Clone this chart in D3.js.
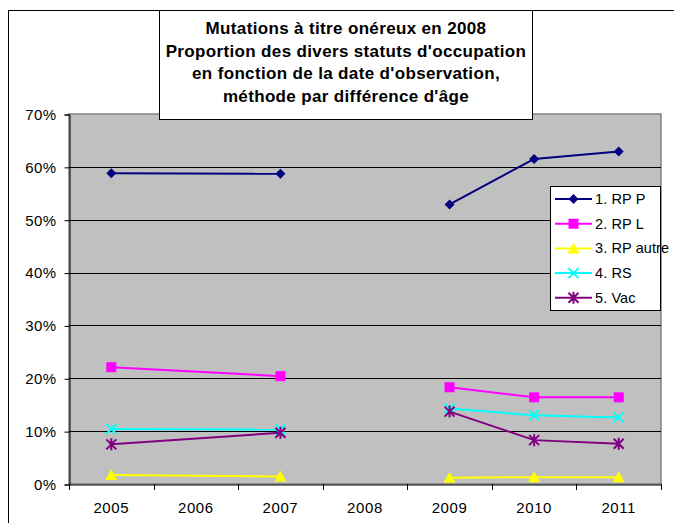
<!DOCTYPE html>
<html><head><meta charset="utf-8">
<script src="https://cdnjs.cloudflare.com/ajax/libs/d3/7.8.5/d3.min.js"></script>
<style>body{margin:0;background:#fff;}svg{display:block;font-family:"Liberation Sans",Arial,sans-serif;}</style>
</head><body>
<script>
const years = ["2005","2006","2007","2008","2009","2010","2011"];
const yTicks = [0,0.1,0.2,0.3,0.4,0.5,0.6,0.7];
const titleLines = ["Mutations à titre onéreux en 2008","Proportion des divers statuts d'occupation","en fonction de la date d'observation,","méthode par différence d'âge"];
const seriesNames = ["1. RP P","2. RP L","3. RP autre","4. RS","5. Vac"];
const seriesColors = ["#000080","#FF00FF","#FFFF00","#00FFFF","#800080"];
const seriesMarkers = ["diamond","square","triangle","x","star"];
// observed years grouped into the connected line segments of the chart
const segments = [["2005","2007"],["2009","2010","2011"]];
const rpP   = [0.588,null,0.587,null,0.529,0.615,0.629];
const rpL   = [0.221,null,0.204,null,0.183,0.164,0.164];
const rpA   = [0.017,null,0.014,null,0.012,0.013,0.013];
const rs    = [0.104,null,0.103,null,0.143,0.130,0.126];
const vac   = [0.075,null,0.097,null,0.137,0.083,0.076];
const seriesValues = [rpP,rpL,rpA,rs,vac];

const W=674,H=523;
const FONT="Liberation Sans, Arial, sans-serif";
const svg=d3.select("body").append("svg").attr("width",W).attr("height",H);
const L=69,R=661,T=114,B=484;
const x=d3.scaleBand().domain(years).range([L,R]).padding(0);
const y=d3.scaleLinear().domain([0,0.7]).range([B,T]);

// outer frame
svg.append("rect").attr("x",8.5).attr("y",10.5).attr("width",W+20).attr("height",H+20)
  .attr("fill","#fff").attr("stroke","#000").attr("stroke-width",1);

// plot area
svg.append("rect").attr("x",L).attr("y",T).attr("width",R-L).attr("height",B-T)
  .attr("fill","#C0C0C0").attr("stroke","#808080").attr("stroke-width",1.5);

// gridlines
svg.append("g").selectAll("line").data(yTicks.filter(d=>d>0&&d<0.7)).join("line")
  .attr("x1",L).attr("x2",R).attr("y1",d=>Math.round(y(d))+0.5).attr("y2",d=>Math.round(y(d))+0.5)
  .attr("stroke","#000").attr("stroke-width",1);

// y axis
const yAxis=d3.axisLeft(y).tickValues(yTicks).tickFormat(d3.format(".0%")).tickSize(5).tickPadding(8);
const gy=svg.append("g").attr("transform",`translate(${L+0.5},0.5)`).call(yAxis);
gy.select(".domain").attr("stroke","#000");
gy.selectAll(".tick line").attr("stroke","#000");
gy.selectAll("text").attr("font-size",15).attr("letter-spacing",0.4).attr("fill","#000").attr("font-family",FONT);

// x axis
const xAxis=d3.axisBottom(x).tickSize(0).tickPadding(18);
const gx=svg.append("g").attr("transform",`translate(0,${B+0.5})`).call(xAxis);
gx.select(".domain").attr("stroke","#000");
gx.selectAll("text").attr("font-size",15).attr("letter-spacing",0.6).attr("fill","#000").attr("font-family",FONT);
// boundary ticks
const bounds=years.map(d=>x(d)).concat([R]);
svg.append("g").selectAll("line").data(bounds).join("line")
  .attr("x1",d=>Math.round(d)+0.5).attr("x2",d=>Math.round(d)+0.5).attr("y1",B).attr("y2",B+6)
  .attr("stroke","#000");

function marker(g,type,color,cx,cy){
  if(type==="diamond"){
    g.append("path").attr("d",`M${cx},${cy-5}L${cx+5},${cy}L${cx},${cy+5}L${cx-5},${cy}Z`).attr("fill",color);
  } else if(type==="square"){
    g.append("rect").attr("x",cx-5).attr("y",cy-5).attr("width",10).attr("height",10).attr("fill",color);
  } else if(type==="triangle"){
    g.append("path").attr("d",`M${cx},${cy-6}L${cx+6},${cy+5}L${cx-6},${cy+5}Z`).attr("fill",color);
  } else if(type==="x"){
    g.append("path").attr("d",`M${cx-5},${cy-5}L${cx+5},${cy+5}M${cx+5},${cy-5}L${cx-5},${cy+5}`)
      .attr("stroke",color).attr("stroke-width",2);
  } else if(type==="star"){
    g.append("path").attr("d",`M${cx-5},${cy-5}L${cx+5},${cy+5}M${cx+5},${cy-5}L${cx-5},${cy+5}M${cx},${cy-6}L${cx},${cy+6}`)
      .attr("stroke",color).attr("stroke-width",2);
  }
}

// series
const line=d3.line().x(d=>x(d.k)+x.bandwidth()/2).y(d=>y(d.v));
seriesValues.forEach((vals,i)=>{
  const data=years.map((k,j)=>({k,v:vals[j]}));
  const g=svg.append("g");
  segments.forEach(seg=>{
    const pts=data.filter(d=>seg.includes(d.k)&&d.v!=null);
    g.append("path").datum(pts).attr("d",line).attr("fill","none")
      .attr("stroke",seriesColors[i]).attr("stroke-width",2);
  });
  data.filter(d=>d.v!=null).forEach(d=>marker(g,seriesMarkers[i],seriesColors[i],x(d.k)+x.bandwidth()/2,y(d.v)));
});

// legend
const lg=svg.append("g");
lg.append("rect").attr("x",550.5).attr("y",186.5).attr("width",110).attr("height",124)
  .attr("fill","#fff").attr("stroke","#000").attr("stroke-width",1);
seriesNames.forEach((n,i)=>{
  const cy=199+i*24.7;
  lg.append("line").attr("x1",555).attr("x2",592).attr("y1",cy).attr("y2",cy)
    .attr("stroke",seriesColors[i]).attr("stroke-width",2);
  marker(lg,seriesMarkers[i],seriesColors[i],573.5,cy);
  lg.append("text").attr("x",595).attr("y",cy).attr("dy","0.35em").attr("font-size",14.5)
    .attr("letter-spacing",0.1).text(n);
});

// title
const tg=svg.append("g");
tg.append("rect").attr("x",159.5).attr("y",10.5).attr("width",373).attr("height",109)
  .attr("fill","#fff").attr("stroke","#000").attr("stroke-width",1);
titleLines.forEach((t,i)=>{
  tg.append("text").attr("x",346).attr("y",34+i*22.7).attr("text-anchor","middle")
    .attr("font-size",17).attr("letter-spacing",0.35).attr("font-weight","bold").text(t);
});
</script>
</body></html>
